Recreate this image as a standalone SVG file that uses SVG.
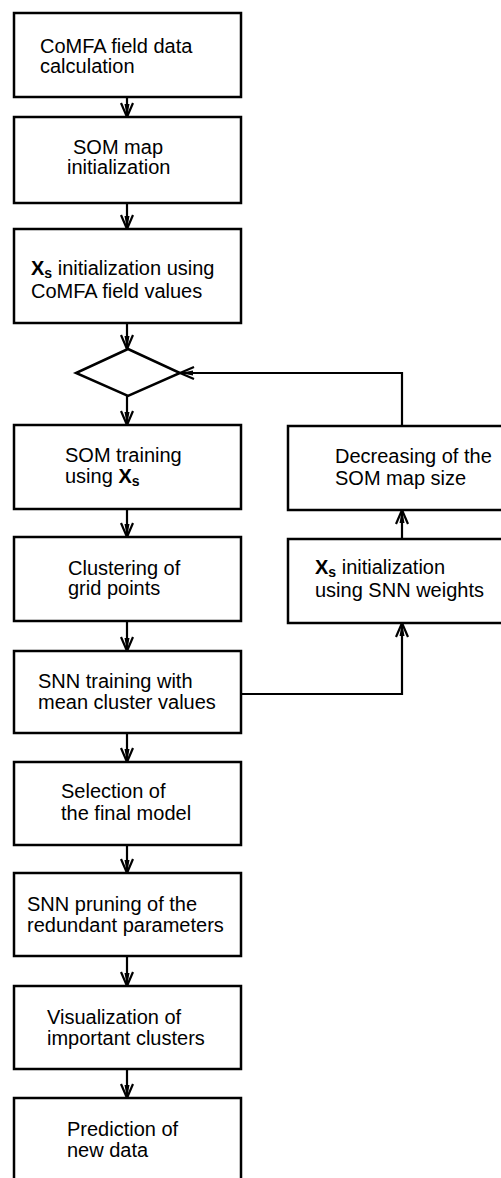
<svg xmlns="http://www.w3.org/2000/svg" width="501" height="1178" viewBox="0 0 501 1178">
<defs>
<style>
.box{fill:#fff;stroke:#000;stroke-width:2.5}
.t{font-family:"Liberation Sans",Arial,sans-serif;font-size:20px;fill:#000}
.b{font-weight:bold}
.sub{font-weight:bold;font-size:14px}
.c{fill:none;stroke:#000;stroke-width:2.2}
</style>
<marker id="ah" viewBox="0 0 16 14" markerWidth="16" markerHeight="14" refX="15" refY="7" orient="auto" markerUnits="userSpaceOnUse">
<path d="M1,1 L15,7 L1,13" fill="none" stroke="#000" stroke-width="2.2"/>
<path d="M2,4.5 L15,7 L2,9.5 Z" fill="#000"/>
</marker>
</defs>
<rect width="501" height="1178" fill="#fff"/>
<g id="connectors">
<line class="c" x1="127" y1="97" x2="127" y2="117" marker-end="url(#ah)"/>
<line class="c" x1="127" y1="203" x2="127" y2="229" marker-end="url(#ah)"/>
<line class="c" x1="127" y1="323" x2="127" y2="349" marker-end="url(#ah)"/>
<line class="c" x1="127" y1="395" x2="127" y2="425" marker-end="url(#ah)"/>
<line class="c" x1="127" y1="509" x2="127" y2="537" marker-end="url(#ah)"/>
<line class="c" x1="127" y1="621" x2="127" y2="651" marker-end="url(#ah)"/>
<line class="c" x1="127" y1="733" x2="127" y2="762" marker-end="url(#ah)"/>
<line class="c" x1="127" y1="845" x2="127" y2="873" marker-end="url(#ah)"/>
<line class="c" x1="127" y1="956" x2="127" y2="986" marker-end="url(#ah)"/>
<line class="c" x1="127" y1="1069" x2="127" y2="1098" marker-end="url(#ah)"/>
<polyline class="c" points="241,694 402,694 402,623" marker-end="url(#ah)"/>
<line class="c" x1="402" y1="539" x2="402" y2="510" marker-end="url(#ah)"/>
<polyline class="c" points="402,426 402,373 180,373" marker-end="url(#ah)"/>
</g>
<g id="n1"><rect class="box" x="14" y="13" width="227" height="84"/>
<text class="t" x="40" y="53">CoMFA field data</text><text class="t" x="40" y="73">calculation</text></g>
<g id="n2"><rect class="box" x="14" y="117" width="227" height="86"/>
<text class="t" x="73" y="154">SOM map</text><text class="t" x="67" y="174">initialization</text></g>
<g id="n3"><rect class="box" x="14" y="229" width="227" height="94"/>
<text class="t" x="31" y="275"><tspan class="b">X</tspan><tspan class="sub" dy="3">s</tspan><tspan dy="-3"> initialization using</tspan></text>
<text class="t" x="31" y="298">CoMFA field values</text></g>
<g id="decision"><polygon points="128,349 180,373 128,396 76,373" fill="#fff" stroke="#000" stroke-width="2.5"/></g>
<g id="n4"><rect class="box" x="14" y="425" width="227" height="84"/>
<text class="t" x="65" y="462">SOM training</text>
<text class="t" x="65" y="483">using <tspan class="b">X</tspan><tspan class="sub" dy="3">s</tspan></text></g>
<g id="n5"><rect class="box" x="14" y="537" width="227" height="84"/>
<text class="t" x="68" y="575">Clustering of</text><text class="t" x="68" y="595">grid points</text></g>
<g id="n6"><rect class="box" x="14" y="651" width="227" height="82"/>
<text class="t" x="38" y="688">SNN training with</text><text class="t" x="38" y="709">mean cluster values</text></g>
<g id="n7"><rect class="box" x="14" y="762" width="227" height="83"/>
<text class="t" x="61" y="798">Selection of</text><text class="t" x="61" y="820">the final model</text></g>
<g id="n8"><rect class="box" x="14" y="873" width="227" height="83"/>
<text class="t" x="27" y="911">SNN pruning of the</text><text class="t" x="27" y="932">redundant parameters</text></g>
<g id="n9"><rect class="box" x="14" y="986" width="227" height="83"/>
<text class="t" x="47" y="1024">Visualization of</text><text class="t" x="47" y="1045">important clusters</text></g>
<g id="n10"><rect class="box" x="14" y="1098" width="227" height="100"/>
<text class="t" x="67" y="1136">Prediction of</text><text class="t" x="67" y="1157">new data</text></g>
<g id="r1"><rect class="box" x="288" y="426" width="230" height="84"/>
<text class="t" x="335" y="463">Decreasing of the</text><text class="t" x="335" y="485">SOM map size</text></g>
<g id="r2"><rect class="box" x="288" y="539" width="230" height="84"/>
<text class="t" x="315" y="574"><tspan class="b">X</tspan><tspan class="sub" dy="3">s</tspan><tspan dy="-3"> initialization</tspan></text>
<text class="t" x="315" y="597">using SNN weights</text></g>
</svg>
